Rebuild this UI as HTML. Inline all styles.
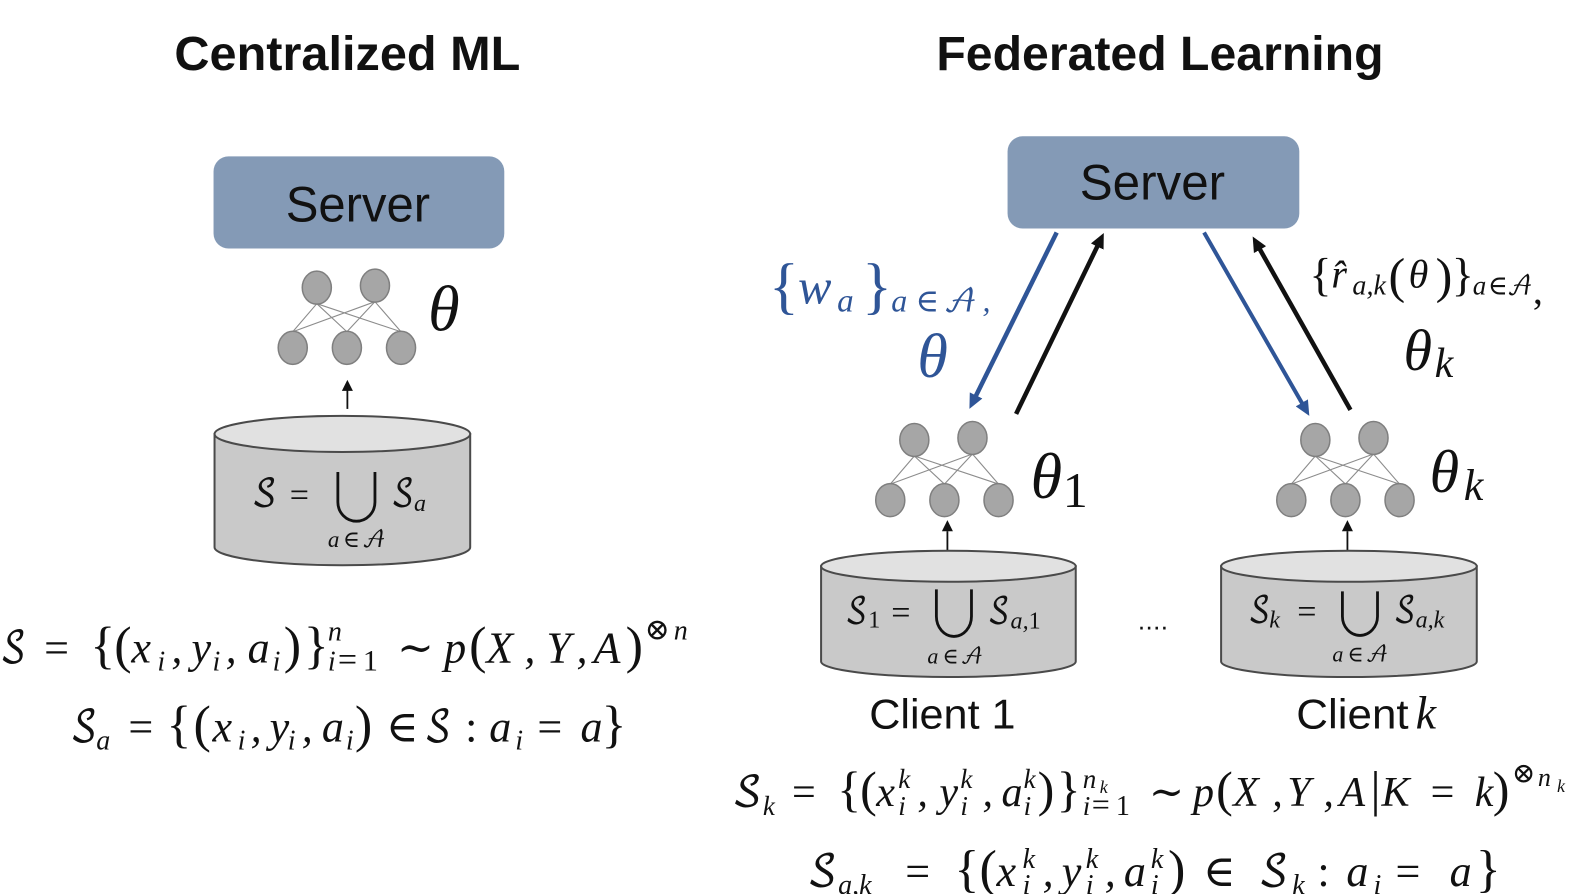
<!DOCTYPE html>
<html><head><meta charset="utf-8"><style>
html,body{margin:0;padding:0;background:#fff}
svg{display:block}
text{font-family:"Liberation Sans",sans-serif;fill:#111}
.m{font-family:"Liberation Serif","DejaVu Serif",serif;font-style:italic}
.r{font-family:"Liberation Serif","DejaVu Serif",serif;font-style:normal}
.s{font-family:"DejaVu Math TeX Gyre","Liberation Serif","DejaVu Serif",serif;font-style:normal}
.n{fill:#a6a6a6;stroke:#7f7f7f;stroke-width:1.5}
.e{stroke:#8c8c8c;stroke-width:1.1;fill:none}
.c{fill:#c9c9c9;stroke:#4a4a4a;stroke-width:2}
.t{fill:#e1e1e1;stroke:#4a4a4a;stroke-width:2}
.b{fill:#2f5597!important}
.cup{fill:none;stroke:#111;stroke-width:2.8}
</style></head><body>
<svg width="1572" height="894" viewBox="0 0 1568 892" preserveAspectRatio="none" xmlns="http://www.w3.org/2000/svg">
<defs>
<marker id="ab" markerWidth="16" markerHeight="16" refX="7" refY="7" orient="auto" markerUnits="userSpaceOnUse"><path d="M0 0L15 7L0 14z" fill="#2f5597"/></marker>
<marker id="ak" markerWidth="16" markerHeight="16" refX="7" refY="7" orient="auto" markerUnits="userSpaceOnUse"><path d="M0 0L15 7L0 14z" fill="#111"/></marker>
<g id="net">
<path class="e" d="M-30 -44L-54 -16M-30 -44L0 -16M-30 -44L54 -16M28 -46L-54 -16M28 -46L0 -16M28 -46L54 -16"/>
<ellipse class="n" cx="-30" cy="-60" rx="14.500" ry="16.500"/><ellipse class="n" cx="28" cy="-62" rx="14.500" ry="16.500"/>
<ellipse class="n" cx="-54" cy="0" rx="14.500" ry="16.500"/><ellipse class="n" cx="0" cy="0" rx="14.500" ry="16.500"/><ellipse class="n" cx="54" cy="0" rx="14.500" ry="16.500"/>
</g>
</defs>

<text x="174" y="70" font-size="48" font-weight="700" textLength="345" lengthAdjust="spacingAndGlyphs">Centralized ML</text>
<text x="934" y="70" font-size="48" font-weight="700" textLength="446" lengthAdjust="spacingAndGlyphs">Federated Learning</text>

<rect x="213" y="156" width="290" height="92" rx="15" fill="#849ab6"/>
<text x="285" y="221" font-size="50" textLength="144" lengthAdjust="spacingAndGlyphs">Server</text>
<rect x="1005" y="136" width="291" height="92" rx="15" fill="#849ab6"/>
<text x="1077" y="199" font-size="50" textLength="145" lengthAdjust="spacingAndGlyphs">Server</text>

<use href="#net" x="346" y="347"/>
<text class="m" x="427" y="330" font-size="64">θ</text>
<line x1="346.500" y1="408" x2="346.500" y2="389" stroke="#111" stroke-width="1.8"/>
<path d="M346.500 379L352 390H341z" fill="#111"/>

<path class="c" d="M214 433V546A127.500 18 0 0 0 469 546V433z"/>
<ellipse class="t" cx="341.500" cy="433" rx="127.500" ry="18"/>
<text class="s" x="251" y="505" font-size="38" textLength="25" lengthAdjust="spacingAndGlyphs">𝒮</text>
<text class="r" x="289" y="505" font-size="34">=</text>
<path class="cup" d="M337 471V501A18.500 19 0 0 0 374 501V471"/>
<text class="s" x="390" y="505" font-size="38" textLength="23" lengthAdjust="spacingAndGlyphs">𝒮</text><text class="m" x="413" y="510" font-size="24">a</text>
<text class="m" font-size="23" y="546"><tspan x="327">a</tspan><tspan class="r" x="342">∈</tspan></text>
<text class="s" x="361" y="546" font-size="23" textLength="24" lengthAdjust="spacingAndGlyphs">𝒜</text>

<!-- line 1 -->
<text class="s" x="0" y="661" font-size="44" textLength="26" lengthAdjust="spacingAndGlyphs">𝒮</text>
<text class="m" font-size="44" y="661"><tspan class="r" x="44">=</tspan><tspan class="r" x="90" font-size="52">{</tspan><tspan class="r" x="114" font-size="52">(</tspan><tspan x="131">x</tspan><tspan x="191">y</tspan><tspan x="247">a</tspan><tspan class="r" x="283" font-size="52">)</tspan><tspan class="r" x="303" font-size="52">}</tspan><tspan class="r" x="396">∼</tspan><tspan x="443">p</tspan><tspan class="r" x="468" font-size="52">(</tspan><tspan x="485">X</tspan><tspan x="545">Y</tspan><tspan x="592">A</tspan><tspan class="r" x="624" font-size="52">)</tspan></text>
<text class="m" font-size="44" y="661"><tspan x="171">,</tspan><tspan x="225">,</tspan><tspan x="523">,</tspan><tspan x="575">,</tspan></text>
<text class="m" font-size="28" y="669"><tspan x="157">i</tspan><tspan x="212">i</tspan><tspan x="272">i</tspan><tspan x="327">i</tspan><tspan class="r" x="337" font-size="34">=</tspan><tspan class="r" x="362" font-size="30">1</tspan></text>
<text class="m" font-size="28" y="639"><tspan x="327">n</tspan><tspan class="r" x="643" y="638" font-size="30">⊗</tspan><tspan x="672" y="638">n</tspan></text>

<!-- line 2 -->
<text class="s" x="70" y="740" font-size="44" textLength="27" lengthAdjust="spacingAndGlyphs">𝒮</text>
<text class="s" x="423" y="740" font-size="44" textLength="27" lengthAdjust="spacingAndGlyphs">𝒮</text>
<text class="m" font-size="44" y="740"><tspan class="r" x="128">=</tspan><tspan class="r" x="166" font-size="52">{</tspan><tspan class="r" x="193" font-size="52">(</tspan><tspan x="212">x</tspan><tspan x="250">,</tspan><tspan x="269">y</tspan><tspan x="301">,</tspan><tspan x="321">a</tspan><tspan class="r" x="354" font-size="52">)</tspan><tspan class="r" x="385">∈</tspan><tspan class="r" x="464">:</tspan><tspan x="488">a</tspan><tspan class="r" x="536">=</tspan><tspan x="579">a</tspan><tspan class="r" x="600" font-size="52">}</tspan></text>
<text class="m" font-size="28" y="748"><tspan x="96">a</tspan><tspan x="237">i</tspan><tspan x="287">i</tspan><tspan x="345">i</tspan><tspan x="514">i</tspan></text>

<!-- arrows -->
<line x1="1054" y1="232" x2="970.500" y2="400.800" stroke="#2f5597" stroke-width="4.500" marker-end="url(#ab)"/>
<line x1="1013.500" y1="413" x2="1097.500" y2="239.700" stroke="#111" stroke-width="4.500" marker-end="url(#ak)"/>
<line x1="1201" y1="232" x2="1302" y2="408" stroke="#2f5597" stroke-width="4" marker-end="url(#ab)"/>
<line x1="1347" y1="409" x2="1253.400" y2="243" stroke="#111" stroke-width="4.500" marker-end="url(#ak)"/>

<text class="r b" x="767" y="306" font-size="62">{</text>
<text class="m b" x="796" y="303" font-size="50">w</text>
<text class="m b" x="835" y="311" font-size="33">a</text>
<text class="r b" x="860" y="306" font-size="62">}</text>
<text class="m b" font-size="32" y="311"><tspan x="889">a</tspan><tspan class="r b" x="913">∈</tspan><tspan x="980">,</tspan></text>
<text class="s b" x="941" y="311" font-size="32" textLength="34" lengthAdjust="spacingAndGlyphs">𝒜</text>
<text class="m b" x="915" y="376" font-size="62">θ</text>

<text class="r" x="1306" y="290" font-size="46">{</text>
<text class="m" x="1328" y="287" font-size="40">r̂</text>
<text class="m" x="1349" y="294" font-size="28">a,k</text>
<text class="r" x="1385" y="292" font-size="50">(</text>
<text class="m" x="1405" y="287" font-size="40">θ</text>
<text class="r" x="1432" y="292" font-size="50">)</text>
<text class="r" x="1448" y="290" font-size="46">}</text>
<text class="m" font-size="27" y="294"><tspan x="1469">a</tspan><tspan class="r" x="1484">∈</tspan></text>
<text class="s" x="1503" y="294" font-size="27" textLength="26" lengthAdjust="spacingAndGlyphs">𝒜</text>
<text class="r" x="1529" y="303" font-size="40">,</text>
<text class="m" x="1400" y="369" font-size="58">θ</text>
<text class="m" x="1431" y="376" font-size="42">k</text>

<!-- client 1 -->
<use href="#net" x="942" y="499"/>
<text class="m" x="1028" y="497" font-size="64">θ</text>
<text class="r" x="1060" y="506" font-size="50">1</text>
<line x1="945" y1="549" x2="945" y2="530" stroke="#111" stroke-width="1.8"/>
<path d="M945 519L950.500 530H939.500z" fill="#111"/>

<!-- client k -->
<use href="#net" x="1342" y="499"/>
<text class="m" x="1426" y="491" font-size="60">θ</text>
<text class="m" x="1460" y="499" font-size="44">k</text>
<line x1="1344" y1="549" x2="1344" y2="530" stroke="#111" stroke-width="1.8"/>
<path d="M1344 519L1349.500 530H1338.500z" fill="#111"/>

<path class="c" d="M819 565V660A127 15.500 0 0 0 1073 660V565z"/>
<ellipse class="t" cx="946" cy="565" rx="127" ry="15.500"/>
<text class="s" x="843" y="622" font-size="36" textLength="22" lengthAdjust="spacingAndGlyphs">𝒮</text>
<text class="r" x="866" y="626" font-size="24">1</text>
<text class="r" x="889" y="622" font-size="34">=</text>
<path class="cup" d="M934 588V615A17.500 20 0 0 0 969 615V588"/>
<text class="s" x="985" y="622" font-size="36" textLength="22" lengthAdjust="spacingAndGlyphs">𝒮</text>
<text class="m" x="1008" y="627" font-size="24">a,<tspan class="r">1</tspan></text>
<text class="m" font-size="22" y="662"><tspan x="925">a</tspan><tspan class="r" x="940">∈</tspan></text>
<text class="s" x="958" y="662" font-size="22" textLength="23" lengthAdjust="spacingAndGlyphs">𝒜</text>

<path class="c" d="M1218 565V660A127.500 15.500 0 0 0 1473 660V565z"/>
<ellipse class="t" cx="1345.500" cy="565" rx="127.500" ry="15.500"/>
<text class="s" x="1245" y="621" font-size="36" textLength="22" lengthAdjust="spacingAndGlyphs">𝒮</text>
<text class="m" x="1266" y="626" font-size="24">k</text>
<text class="r" x="1294" y="621" font-size="34">=</text>
<path class="cup" d="M1339 590V615A17.500 19 0 0 0 1374 615V590"/>
<text class="s" x="1390" y="621" font-size="36" textLength="22" lengthAdjust="spacingAndGlyphs">𝒮</text>
<text class="m" x="1412" y="626" font-size="24">a,k</text>
<text class="m" font-size="22" y="660"><tspan x="1329">a</tspan><tspan class="r" x="1344">∈</tspan></text>
<text class="s" x="1362" y="660" font-size="22" textLength="23" lengthAdjust="spacingAndGlyphs">𝒜</text>

<text x="1135" y="628" font-size="26" textLength="30">....</text>
<text x="867" y="727" font-size="42" textLength="146" lengthAdjust="spacingAndGlyphs">Client 1</text>
<text x="1293" y="727" font-size="42" textLength="112" lengthAdjust="spacingAndGlyphs">Client</text>
<text class="m" x="1412" y="727" font-size="46">k</text>

<!-- line 3 -->
<text class="s" x="730" y="804" font-size="42" textLength="30" lengthAdjust="spacingAndGlyphs">𝒮</text>
<text class="m" font-size="42" y="804"><tspan class="r" x="790">=</tspan><tspan class="r" x="835" font-size="50">{</tspan><tspan class="r" x="858" font-size="50">(</tspan><tspan x="874">x</tspan><tspan x="915">,</tspan><tspan x="937">y</tspan><tspan x="980">,</tspan><tspan x="999">a</tspan><tspan class="r" x="1035" font-size="50">)</tspan><tspan class="r" x="1054" font-size="50">}</tspan><tspan class="r" x="1146">∼</tspan><tspan x="1190">p</tspan><tspan class="r" x="1213" font-size="50">(</tspan><tspan x="1230">X</tspan><tspan x="1269">,</tspan><tspan x="1284">Y</tspan><tspan x="1320">,</tspan><tspan x="1336">A</tspan><tspan class="r" x="1367" font-size="50">|</tspan><tspan x="1378">K</tspan><tspan class="r" x="1427">=</tspan><tspan x="1471">k</tspan><tspan class="r" x="1489" font-size="50">)</tspan></text>
<text class="m" font-size="27" y="786"><tspan x="896">k</tspan><tspan x="958">k</tspan><tspan x="1021">k</tspan><tspan x="1080">n</tspan></text>
<text class="m" font-size="27" y="813"><tspan x="761" font-size="27">k</tspan><tspan x="896">i</tspan><tspan x="958">i</tspan><tspan x="1021">i</tspan><tspan x="1080">i</tspan><tspan class="r" x="1089" font-size="32">=</tspan><tspan class="r" x="1113" font-size="28">1</tspan></text>
<text class="m" font-size="18" y="791" x="1097">k</text>
<text class="r" font-size="28" x="1508" y="781">⊗</text>
<text class="m" font-size="26" x="1534" y="784">n</text>
<text class="m" font-size="18" x="1553" y="790">k</text>

<!-- line 4 -->
<text class="s" x="805" y="884" font-size="44" textLength="30" lengthAdjust="spacingAndGlyphs">𝒮</text>
<text class="s" x="1255" y="884" font-size="44" textLength="30" lengthAdjust="spacingAndGlyphs">𝒮</text>
<text class="m" font-size="44" y="884"><tspan class="r" x="903">=</tspan><tspan class="r" x="952" font-size="52">{</tspan><tspan class="r" x="977" font-size="52">(</tspan><tspan x="994">x</tspan><tspan x="1040">,</tspan><tspan x="1059">y</tspan><tspan x="1102">,</tspan><tspan x="1121">a</tspan><tspan class="r" x="1165" font-size="52">)</tspan><tspan class="r" x="1200">∈</tspan><tspan class="r" x="1314">:</tspan><tspan x="1343">a</tspan><tspan class="r" x="1392">=</tspan><tspan x="1446">a</tspan><tspan class="r" x="1472" font-size="52">}</tspan></text>
<text class="m" font-size="28" y="866"><tspan x="1020">k</tspan><tspan x="1083">k</tspan><tspan x="1148">k</tspan></text>
<text class="m" font-size="28" y="892"><tspan x="836">a,k</tspan><tspan x="1020">i</tspan><tspan x="1083">i</tspan><tspan x="1148">i</tspan><tspan x="1289">k</tspan><tspan x="1370">i</tspan></text>
</svg>
</body></html>
